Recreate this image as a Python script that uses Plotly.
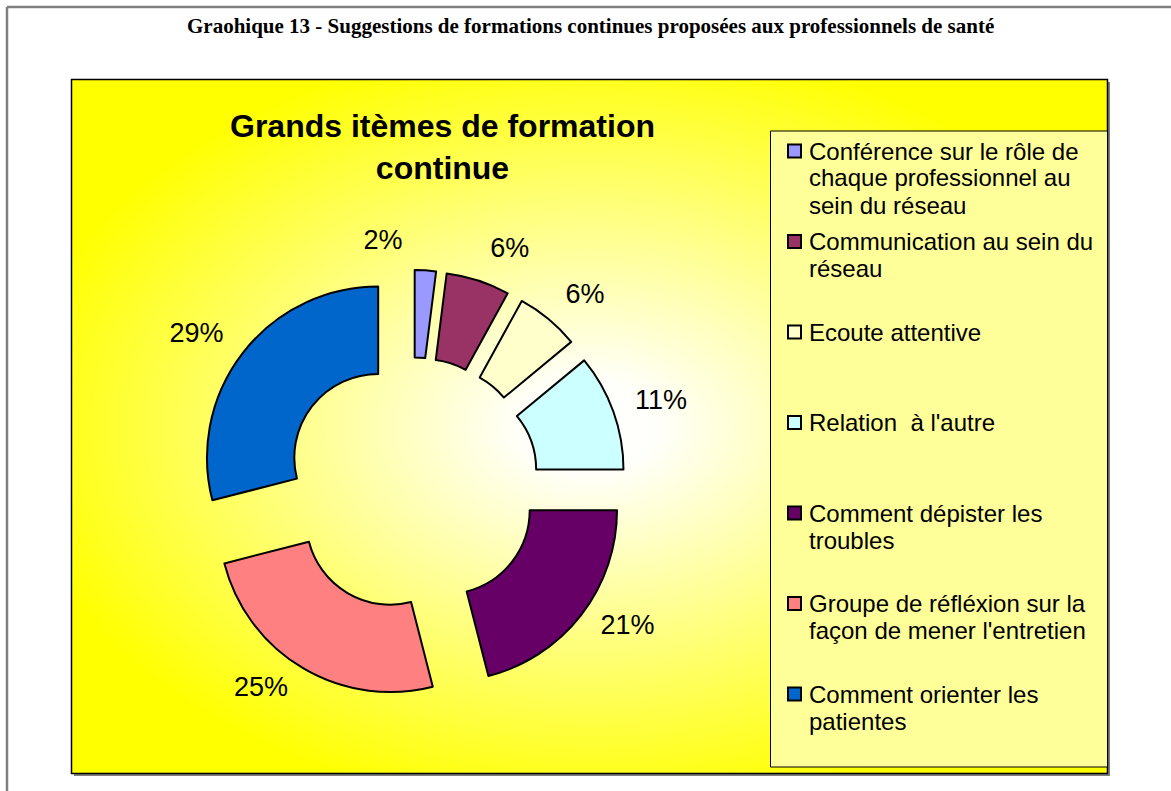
import base64
import plotly.graph_objects as go

# données du graphique
labels = [
    "Conférence sur le rôle de<br>chaque professionnel au<br>sein du réseau",
    "Communication au sein du<br>réseau",
    "Ecoute attentive",
    "Relation \u00a0à l'autre",
    "Comment dépister les<br>troubles",
    "Groupe de réfléxion sur la<br>façon de mener l'entretien",
    "Comment orienter les<br>patientes",
]
values = [2, 6, 6, 11, 21, 25, 29]
colors = ["#9999FF", "#993366", "#FFFFCC", "#CCFFFF", "#660066", "#FF8080", "#0066CC"]

W, H = 1171, 791


def fx(x):
    return x / W


def fy(y):
    return 1 - y / H


# fond dégradé (blanc au centre vers jaune sur les bords)
svg = (
    '<svg xmlns="http://www.w3.org/2000/svg" width="1036" height="694" '
    'viewBox="0 0 1036 694" preserveAspectRatio="none">'
    '<defs><radialGradient id="g" cx="0.5" cy="0.5" r="0.56">'
    '<stop offset="0" stop-color="#ffffff"/><stop offset="0.12" stop-color="#fffffa"/>'
    '<stop offset="1" stop-color="#ffff00"/></radialGradient></defs>'
    '<rect width="1036" height="694" fill="url(#g)"/></svg>'
)
bg_src = "data:image/svg+xml;base64," + base64.b64encode(svg.encode()).decode()

fig = go.Figure()

# donut éclaté, centre ~ (412, 484)
cx, cy = 412, 484
plain_labels = [l.replace("<br>", " ") for l in labels]
n = len(values)


def pie_domain(half, dy=0):
    return dict(x=[fx(cx - half), fx(cx + half)], y=[fy(cy + dy + half), fy(cy + dy - half)])


fig.add_trace(go.Pie(
    labels=plain_labels,
    values=values,
    sort=False,
    direction="clockwise",
    rotation=0,
    hole=0.49,
    pull=0.25,
    marker=dict(colors=colors, line=dict(color="black", width=2)),
    textinfo="none",
    domain=pie_domain(214),
    showlegend=False,
    hoverinfo="label+percent",
))

# étiquettes de pourcentage (traces transparentes, un peu plus grandes)
label_font = dict(size=27, color="black", family="Liberation Sans, Arial")
fig.add_trace(go.Pie(
    labels=plain_labels,
    values=values,
    sort=False,
    direction="clockwise",
    rotation=0,
    pull=0.25,
    marker=dict(colors=["rgba(0,0,0,0)"] * n, line=dict(width=0)),
    textposition=["none"] + ["outside"] * (n - 1),
    texttemplate="%{percent:.0%}",
    textfont=label_font,
    domain=pie_domain(229, dy=-5),
    showlegend=False,
    hoverinfo="skip",
    automargin=False,
))
# la petite part (2 %) : étiquette seule, décalée vers la gauche comme sur l'original
fig.add_trace(go.Pie(
    labels=plain_labels,
    values=values,
    sort=False,
    direction="clockwise",
    rotation=-(values[0] / sum(values) * 180 + 0.5),
    pull=0.25,
    marker=dict(colors=["rgba(0,0,0,0)"] * n, line=dict(width=0)),
    textposition=["outside"] + ["none"] * (n - 1),
    texttemplate="%{percent:.0%}",
    textfont=label_font,
    domain=pie_domain(229),
    showlegend=False,
    hoverinfo="skip",
    automargin=False,
))

shapes = [
    # cadre de page
    dict(type="line", x0=fx(7), x1=fx(1175), y0=fy(7), y1=fy(7), line=dict(color="#808080", width=2.5)),
    dict(type="line", x0=fx(7), x1=fx(7), y0=fy(7), y1=fy(795), line=dict(color="#808080", width=2.5)),
    # ombre du graphique
    dict(type="rect", x0=fx(74), x1=fx(1110), y0=fy(773), y1=fy(776), fillcolor="#808080", line_width=0, layer="below"),
    dict(type="rect", x0=fx(1107), x1=fx(1110), y0=fy(82), y1=fy(776), fillcolor="#808080", line_width=0, layer="below"),
    # bordure du graphique
    dict(type="rect", x0=fx(71.5), x1=fx(1107.5), y0=fy(79.5), y1=fy(773.5),
         line=dict(color="black", width=1.5), layer="below"),
    # boîte de légende
    dict(type="rect", x0=fx(770.5), x1=fx(1107.5), y0=fy(131), y1=fy(767),
         fillcolor="#FFFF99", line=dict(color="black", width=1), layer="below"),
]

annotations = [
    dict(text="<b>Graohique 13 - Suggestions de formations continues proposées aux professionnels de santé</b>",
         x=fx(590), y=fy(26), xref="paper", yref="paper", xanchor="center", yanchor="middle", showarrow=False,
         font=dict(family="Liberation Serif, Times New Roman", size=21, color="black")),
    dict(text="<b>Grands itèmes de formation<br>continue</b>",
         x=fx(442), y=fy(147), xref="paper", yref="paper", xanchor="center", yanchor="middle", showarrow=False,
         font=dict(family="Liberation Sans, Arial", size=32, color="black")),
]

# légende manuelle
leg_top, leg_step, line_step = 151, 90.5, 27
for i, (lab, col) in enumerate(zip(labels, colors)):
    yc = leg_top + i * leg_step
    shapes.append(dict(type="rect", x0=fx(788), x1=fx(801), y0=fy(yc + 6.5), y1=fy(yc - 6.5),
                       fillcolor=col, line=dict(color="black", width=2)))
    for j, part in enumerate(lab.split("<br>")):
        annotations.append(dict(
            text=part, x=fx(807), y=fy(yc + j * line_step), xref="paper", yref="paper",
            xanchor="left", yanchor="middle", showarrow=False,
            font=dict(family="Liberation Sans, Arial", size=24, color="black"),
        ))

fig.update_layout(
    width=W,
    height=H,
    autosize=False,
    showlegend=False,
    margin=dict(l=0, r=0, t=0, b=0, pad=0, autoexpand=False),
    paper_bgcolor="white",
    shapes=shapes,
    annotations=annotations,
    images=[dict(source=bg_src, xref="paper", yref="paper", x=fx(72), y=fy(80),
                 sizex=fx(1107) - fx(72), sizey=fy(80) - fy(773),
                 xanchor="left", yanchor="top", sizing="stretch", layer="below")],
)

fig.write_html("out.html", config={"displayModeBar": False},
               post_script="document.body.style.margin='0';document.body.style.overflow='hidden';")
